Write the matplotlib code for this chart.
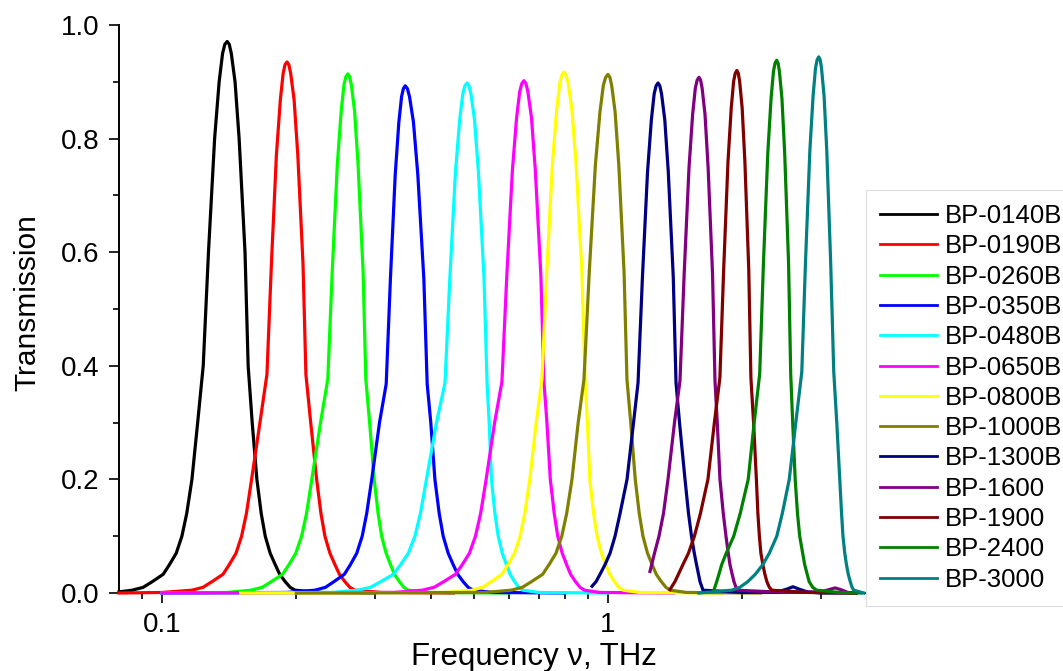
import matplotlib
matplotlib.use("Agg")
import matplotlib.pyplot as plt
from matplotlib.ticker import FixedLocator, FixedFormatter, LogLocator, NullFormatter, MultipleLocator, FormatStrFormatter

plt.rcParams['font.family'] = ['Liberation Sans', 'DejaVu Sans']

# filter names and colours
names = ["BP-0140B", "BP-0190B", "BP-0260B", "BP-0350B", "BP-0480B", "BP-0650B", "BP-0800B",
         "BP-1000B", "BP-1300B", "BP-1600", "BP-1900", "BP-2400", "BP-3000"]
colors = ["#000000", "#ff0000", "#00ff00", "#0000ff", "#00ffff", "#ff00ff", "#ffff00",
          "#808000", "#000080", "#800080", "#800000", "#008000", "#008080"]

# transmission curves (frequency in THz, transmission)
f_0140 = [0.0801, 0.0857, 0.0907, 0.0951, 0.1006, 0.1039, 0.1076, 0.1108, 0.1136, 0.1167, 0.1202, 0.1237,
          0.1271, 0.1312, 0.1343, 0.1367, 0.1383, 0.1400, 0.1415, 0.1430, 0.1458, 0.1489, 0.1535, 0.1560,
          0.1593, 0.1632, 0.1669, 0.1704, 0.1748, 0.1794, 0.1836, 0.1889, 0.1938, 0.1989, 0.225, 0.30]
t_0140 = [0.002, 0.005, 0.01, 0.02, 0.033, 0.05, 0.07, 0.10, 0.14, 0.20, 0.30, 0.40,
          0.60, 0.80, 0.90, 0.95, 0.966, 0.971, 0.966, 0.95, 0.90, 0.80, 0.60, 0.40,
          0.30, 0.20, 0.14, 0.10, 0.07, 0.05, 0.033, 0.02, 0.01, 0.005, 0.001, 0.0]

f_0190 = [0.0801, 0.100, 0.1167, 0.1235, 0.1294, 0.1370, 0.1415, 0.1465, 0.1508, 0.1546, 0.1588, 0.1658,
          0.1719, 0.1759, 0.1805, 0.1842, 0.1869, 0.1887, 0.1906, 0.1925, 0.1943, 0.1978, 0.2016, 0.2071,
          0.2102, 0.2155, 0.2222, 0.2272, 0.2319, 0.2380, 0.2442, 0.2499, 0.2571, 0.2638, 0.2708, 0.31, 0.45]
t_0190 = [0.0, 0.001, 0.005, 0.01, 0.02, 0.033, 0.05, 0.07, 0.10, 0.14, 0.20, 0.30,
          0.385, 0.579, 0.771, 0.868, 0.915, 0.930, 0.935, 0.930, 0.915, 0.868, 0.771, 0.579,
          0.385, 0.30, 0.20, 0.14, 0.10, 0.07, 0.05, 0.033, 0.02, 0.01, 0.005, 0.001, 0.0]

f_0260 = [0.10, 0.14, 0.1582, 0.1677, 0.1758, 0.1863, 0.1926, 0.1995, 0.2056, 0.2109, 0.2167, 0.2267,
          0.2354, 0.2408, 0.2472, 0.2522, 0.2559, 0.2584, 0.261, 0.2634, 0.2658, 0.2703, 0.2752, 0.2824,
          0.2864, 0.2921, 0.2991, 0.3052, 0.3108, 0.3181, 0.3254, 0.3321, 0.3407, 0.3487, 0.3567, 0.40, 0.60]
t_0260 = [0.0, 0.001, 0.005, 0.01, 0.02, 0.033, 0.05, 0.07, 0.10, 0.14, 0.20, 0.30,
          0.377, 0.566, 0.754, 0.848, 0.895, 0.909, 0.914, 0.909, 0.895, 0.848, 0.754, 0.566,
          0.377, 0.30, 0.20, 0.14, 0.10, 0.07, 0.05, 0.033, 0.02, 0.01, 0.005, 0.001, 0.0]

f_0350 = [0.10, 0.19, 0.2202, 0.2325, 0.2429, 0.2564, 0.2645, 0.2733, 0.2811, 0.2877, 0.2953, 0.3074,
          0.3182, 0.3252, 0.3334, 0.3397, 0.3445, 0.3477, 0.351, 0.3550, 0.3589, 0.3663, 0.3746, 0.3865,
          0.3932, 0.4006, 0.4092, 0.4184, 0.4271, 0.4383, 0.4497, 0.4603, 0.4735, 0.4859, 0.4986, 0.55, 0.80]
t_0350 = [0.0, 0.001, 0.005, 0.01, 0.02, 0.033, 0.05, 0.07, 0.10, 0.14, 0.20, 0.30,
          0.368, 0.553, 0.737, 0.829, 0.874, 0.888, 0.893, 0.888, 0.874, 0.829, 0.737, 0.553,
          0.368, 0.30, 0.20, 0.14, 0.10, 0.07, 0.05, 0.033, 0.02, 0.01, 0.005, 0.001, 0.0]

f_0480 = [0.10, 0.24, 0.2747, 0.2933, 0.3094, 0.3303, 0.3428, 0.3567, 0.3691, 0.3797, 0.3917, 0.4126,
          0.4311, 0.4421, 0.4550, 0.4650, 0.4726, 0.4778, 0.483, 0.4880, 0.4928, 0.5021, 0.5123, 0.5272,
          0.5356, 0.5416, 0.5479, 0.5578, 0.5674, 0.5795, 0.5920, 0.6034, 0.6176, 0.6308, 0.6443, 0.70, 1.0]
t_0480 = [0.0, 0.001, 0.005, 0.01, 0.02, 0.033, 0.05, 0.07, 0.10, 0.14, 0.20, 0.30,
          0.370, 0.556, 0.741, 0.833, 0.879, 0.893, 0.898, 0.893, 0.879, 0.833, 0.741, 0.556,
          0.370, 0.30, 0.20, 0.14, 0.10, 0.07, 0.05, 0.033, 0.02, 0.01, 0.005, 0.001, 0.0]

f_0650 = [0.10, 0.33, 0.3834, 0.4074, 0.4281, 0.4550, 0.4713, 0.4889, 0.5045, 0.5182, 0.5331, 0.5570,
          0.5784, 0.5931, 0.6105, 0.6239, 0.6341, 0.6410, 0.648, 0.6547, 0.6612, 0.6737, 0.6873, 0.7073,
          0.7185, 0.7297, 0.7426, 0.7577, 0.7716, 0.7897, 0.8078, 0.8246, 0.8458, 0.8657, 0.8856, 0.96, 1.4]
t_0650 = [0.0, 0.001, 0.005, 0.01, 0.02, 0.033, 0.05, 0.07, 0.10, 0.14, 0.20, 0.30,
          0.372, 0.558, 0.744, 0.837, 0.883, 0.897, 0.902, 0.897, 0.883, 0.837, 0.744, 0.558,
          0.372, 0.30, 0.20, 0.14, 0.10, 0.07, 0.05, 0.033, 0.02, 0.01, 0.005, 0.001, 0.0]

f_0800 = [0.15, 0.43, 0.4952, 0.5232, 0.5473, 0.5784, 0.5969, 0.6173, 0.6354, 0.6507, 0.6680, 0.6904,
          0.7114, 0.7295, 0.7509, 0.7674, 0.7799, 0.7884, 0.797, 0.8057, 0.8141, 0.8302, 0.8479, 0.8738,
          0.8883, 0.8993, 0.9106, 0.9286, 0.9456, 0.9668, 0.9890, 1.0091, 1.0344, 1.0576, 1.0819, 1.18, 1.8]
t_0800 = [0.0, 0.001, 0.005, 0.01, 0.02, 0.033, 0.05, 0.07, 0.10, 0.14, 0.20, 0.30,
          0.378, 0.568, 0.757, 0.851, 0.898, 0.912, 0.917, 0.912, 0.898, 0.851, 0.757, 0.568,
          0.378, 0.30, 0.20, 0.14, 0.10, 0.07, 0.05, 0.033, 0.02, 0.01, 0.005, 0.001, 0.0]

f_1000 = [0.20, 0.53, 0.6063, 0.6425, 0.6737, 0.7138, 0.7378, 0.7645, 0.7878, 0.8080, 0.8304, 0.8574,
          0.8835, 0.9080, 0.9370, 0.9595, 0.9765, 0.9882, 1.0, 1.0099, 1.0193, 1.0376, 1.0577, 1.0867,
          1.1031, 1.1249, 1.1513, 1.1754, 1.1981, 1.2268, 1.2563, 1.2832, 1.3174, 1.3491, 1.3815, 1.50, 2.2]
t_1000 = [0.0, 0.001, 0.005, 0.01, 0.02, 0.033, 0.05, 0.07, 0.10, 0.14, 0.20, 0.30,
          0.376, 0.565, 0.753, 0.847, 0.894, 0.908, 0.913, 0.908, 0.894, 0.847, 0.753, 0.565,
          0.376, 0.30, 0.20, 0.14, 0.10, 0.07, 0.05, 0.033, 0.02, 0.01, 0.005, 0.001, 0.0]

f_1300 = [0.9211, 0.9403, 0.9599, 0.9850, 1.0107, 1.0372, 1.0644, 1.1035, 1.1412, 1.1680,
          1.1949, 1.2266, 1.2512, 1.2696, 1.2822, 1.295, 1.3070, 1.3187, 1.3411, 1.3656, 1.4011, 1.4211,
          1.4470, 1.4887, 1.5159, 1.5395, 1.5619, 1.5798, 1.5962, 1.6085, 1.6254, 1.6336,
          2.0, 2.4, 2.52, 2.6, 2.68, 2.8, 3.0, 3.6]
t_1300 = [0.012, 0.02, 0.033, 0.05, 0.07, 0.10, 0.14, 0.20, 0.30, 0.370,
          0.556, 0.741, 0.833, 0.879, 0.893, 0.898, 0.893, 0.879, 0.833, 0.741, 0.556, 0.370,
          0.30, 0.20, 0.14, 0.10, 0.07, 0.05, 0.033, 0.02, 0.01, 0.005,
          0.001, 0.002, 0.007, 0.011, 0.007, 0.002, 0.0, 0.0]

f_1600 = [1.2424, 1.2715, 1.3014, 1.3320, 1.3634, 1.4099, 1.4506,
          1.4822, 1.5197, 1.5485, 1.5702, 1.5850, 1.60, 1.6133, 1.6260, 1.6505, 1.6773, 1.7160, 1.7378,
          1.7585, 1.7832, 1.8139, 1.8394, 1.8613, 1.8776, 1.8992, 1.9170, 1.9368, 1.9469,
          2.5, 3.0, 3.13, 3.23, 3.33, 3.45, 3.6]
t_1600 = [0.038, 0.07, 0.10, 0.14, 0.20, 0.30, 0.374,
          0.562, 0.749, 0.843, 0.889, 0.903, 0.908, 0.903, 0.889, 0.843, 0.749, 0.562, 0.374,
          0.30, 0.20, 0.14, 0.10, 0.07, 0.05, 0.033, 0.02, 0.01, 0.005,
          0.001, 0.002, 0.006, 0.009, 0.006, 0.001, 0.0]

f_1900 = [1.3770, 1.4130, 1.4387, 1.4725, 1.5150, 1.5626, 1.6119, 1.6755, 1.7325, 1.7825,
          1.8174, 1.8584, 1.8900, 1.9135, 1.9297, 1.946, 1.9602, 1.9736, 1.9997, 2.0281, 2.0690, 2.0920,
          2.1211, 2.1521, 2.1688, 2.1857, 2.2027, 2.2256, 2.2486, 2.2720, 2.3015, 2.3315, 2.8, 3.6]
t_1900 = [0.006, 0.02, 0.033, 0.05, 0.07, 0.10, 0.14, 0.20, 0.30, 0.379,
          0.569, 0.759, 0.854, 0.901, 0.915, 0.920, 0.915, 0.901, 0.854, 0.759, 0.569, 0.379,
          0.30, 0.20, 0.14, 0.10, 0.07, 0.05, 0.033, 0.02, 0.01, 0.005, 0.001, 0.0]

f_2400 = [1.7263, 1.7533, 1.7734, 1.7992, 1.8415, 1.9142, 1.9796, 2.0630, 2.1278, 2.1892,
          2.2320, 2.2825, 2.3212, 2.3501, 2.3699, 2.39, 2.4074, 2.4239, 2.4560, 2.4909, 2.5410, 2.5693,
          2.5958, 2.6295, 2.6610, 2.6914, 2.7334, 2.7616, 2.7977, 2.8266, 2.8783, 2.9383, 3.3, 3.7]
t_2400 = [0.004, 0.02, 0.033, 0.05, 0.07, 0.10, 0.14, 0.20, 0.30, 0.386,
          0.581, 0.774, 0.870, 0.918, 0.933, 0.938, 0.933, 0.918, 0.870, 0.774, 0.581, 0.386,
          0.30, 0.20, 0.14, 0.10, 0.07, 0.05, 0.033, 0.02, 0.01, 0.005, 0.001, 0.0]

f_3000 = [1.60, 1.8955, 1.9751, 2.0585, 2.1399, 2.2242, 2.3003, 2.3911, 2.4601, 2.5503, 2.6377, 2.7205,
          2.7737, 2.8364, 2.8845, 2.9204, 2.9451, 2.97, 2.9917, 3.0122, 3.0520, 3.0953, 3.1577, 3.2091,
          3.2593, 3.3101, 3.3410, 3.3653, 3.3968, 3.4265, 3.4586, 3.4945, 3.5272, 3.5584, 3.75]
t_3000 = [0.0, 0.005, 0.01, 0.02, 0.033, 0.05, 0.07, 0.10, 0.14, 0.20, 0.30, 0.389,
          0.584, 0.779, 0.876, 0.924, 0.939, 0.944, 0.939, 0.924, 0.876, 0.779, 0.584, 0.389,
          0.30, 0.20, 0.14, 0.10, 0.07, 0.05, 0.033, 0.02, 0.01, 0.005, 0.0]

freqs = [f_0140, f_0190, f_0260, f_0350, f_0480, f_0650, f_0800, f_1000, f_1300, f_1600, f_1900, f_2400, f_3000]
trans = [t_0140, t_0190, t_0260, t_0350, t_0480, t_0650, t_0800, t_1000, t_1300, t_1600, t_1900, t_2400, t_3000]

fig = plt.figure(figsize=(10.63, 6.71), dpi=100)
ax = fig.add_axes([0.112, 0.1162, 0.7017, 0.8465])

for i in range(len(names)):
    ax.plot(freqs[i], trans[i], color=colors[i], lw=2.3, label=names[i], zorder=3, clip_on=False)

ax.set_xscale("log")
ax.set_xlim(0.0801, 3.77)
ax.set_ylim(0, 1.0)

ax.xaxis.set_major_locator(FixedLocator([0.1, 1]))
ax.xaxis.set_major_formatter(FixedFormatter(["0.1", "1"]))
ax.xaxis.set_minor_locator(LogLocator(base=10, subs=[2, 3, 4, 5, 6, 7, 8, 9]))
ax.xaxis.set_minor_formatter(NullFormatter())
ax.yaxis.set_major_locator(MultipleLocator(0.2))
ax.yaxis.set_minor_locator(MultipleLocator(0.1))
ax.yaxis.set_major_formatter(FormatStrFormatter("%.1f"))

ax.spines["top"].set_visible(False)
ax.spines["right"].set_visible(False)
ax.spines["left"].set_linewidth(1.4)
ax.spines["bottom"].set_linewidth(1.4)
ax.tick_params(which="major", direction="out", length=7, width=1.2, labelsize=20, pad=7)
ax.tick_params(which="minor", direction="out", length=4.5, width=1.2)

ax.set_xlabel("Frequency \u03bd, THz", fontsize=22.5)
ax.xaxis.set_label_coords(0.556, -0.086)
ax.set_ylabel("Transmission", fontsize=21.5)
ax.yaxis.set_label_coords(-0.1046, 0.511)

leg = ax.legend(loc="upper left", bbox_to_anchor=(0.8147, 0.717), bbox_transform=fig.transFigure,
                fontsize=18.5, frameon=True, fancybox=False, edgecolor="#d4d4d4",
                handlelength=2.2, handletextpad=0.31, labelspacing=0.245, borderpad=0.55, borderaxespad=0)
leg.get_frame().set_linewidth(0.8)
for line in leg.get_lines():
    line.set_linewidth(2.0)

fig.savefig("out.png", dpi=100)
